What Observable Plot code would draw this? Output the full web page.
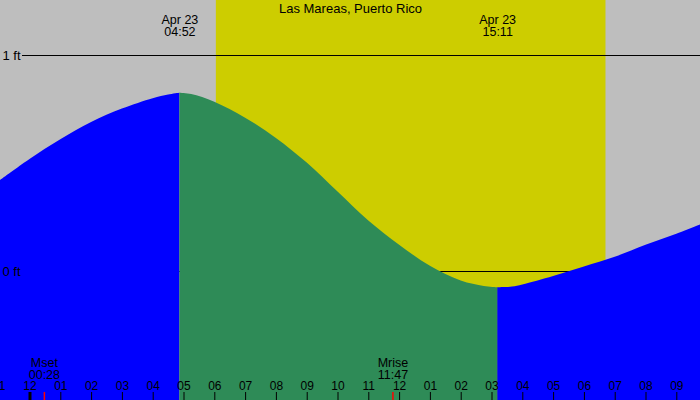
<!DOCTYPE html>
<html>
<head>
<meta charset="utf-8">
<script src="https://cdn.jsdelivr.net/npm/d3@7"></script>
<script src="https://cdn.jsdelivr.net/npm/@observablehq/plot@0.6"></script>
<style>
  html, body { margin: 0; padding: 0; background: #fff; }
  #chart svg { display: block; }
</style>
</head>
<body>
<div id="chart"></div>
<script>
// ---- data ----
const title = "Las Mareas, Puerto Rico";
const windowStart = "2024-04-22T23:02:32Z";
const windowEnd = "2024-04-23T21:46:09Z";

const tideTimes = [
  "2024-04-22T23:00Z", "2024-04-23T00:00Z", "2024-04-23T01:00Z", "2024-04-23T02:00Z",
  "2024-04-23T03:00Z", "2024-04-23T04:00Z", "2024-04-23T04:30Z", "2024-04-23T04:52Z",
  "2024-04-23T05:15Z", "2024-04-23T06:00Z", "2024-04-23T07:00Z", "2024-04-23T08:00Z",
  "2024-04-23T09:00Z", "2024-04-23T10:00Z", "2024-04-23T11:00Z", "2024-04-23T12:00Z",
  "2024-04-23T13:00Z", "2024-04-23T14:00Z", "2024-04-23T14:45Z", "2024-04-23T15:11Z",
  "2024-04-23T15:40Z", "2024-04-23T16:00Z", "2024-04-23T17:00Z", "2024-04-23T18:00Z",
  "2024-04-23T19:00Z", "2024-04-23T20:00Z", "2024-04-23T21:00Z", "2024-04-23T22:00Z"
];
const tideFeet = [
  0.417, 0.519, 0.610, 0.690,
  0.752, 0.800, 0.817, 0.825,
  0.819, 0.784, 0.710, 0.616,
  0.502, 0.368, 0.234, 0.122,
  0.024, -0.044, -0.069, -0.075,
  -0.072, -0.062, -0.023, 0.021,
  0.066, 0.122, 0.173, 0.229
];

const extremeTimes = ["2024-04-23T04:52Z", "2024-04-23T15:11Z"];
const extremeDates = ["Apr 23", "Apr 23"];
const extremeClock = ["04:52", "15:11"];

const sunrise = "2024-04-23T06:03Z";
const sunset = "2024-04-23T18:42Z";

const moonTimes = ["2024-04-23T00:28Z", "2024-04-23T11:47Z"];
const moonNames = ["Mset", "Mrise"];
const moonClock = ["00:28", "11:47"];

const dayBoundary = ["2024-04-23T00:00Z"];

const tickStart = "2024-04-22T23:00Z";
const tickLabels = ["11","12","01","02","03","04","05","06","07","08","09","10","11",
                    "12","01","02","03","04","05","06","07","08","09"];

const levelValues = [0, 1];
const levelLabels = ["0 ft", "1 ft"];

// ---- build ----
const P = s => new Date(s);
const tide = tideTimes.map((t, i) => ({t: P(t), h: tideFeet[i]}));
const hi = P(extremeTimes[0]), lo = P(extremeTimes[1]);
const rising = [
  ...tide.filter(d => d.t <= hi).map(d => ({...d, seg: "r1"})),
  ...tide.filter(d => d.t >= lo).map(d => ({...d, seg: "r2"}))
];
const falling = tide.filter(d => d.t >= hi && d.t <= lo).map(d => ({...d, seg: "f"}));

const tickTimes = tickLabels.map((lab, i) => ({t: d3.utcHour.offset(P(tickStart), i), lab}));
const extremes = extremeTimes.map((t, i) => ({t: P(t), text: extremeDates[i] + "\n" + extremeClock[i]}));
const moons = moonTimes.map((t, i) => ({t: P(t), text: moonNames[i] + "\n" + moonClock[i]}));
const levels = levelValues.map((v, i) => ({v, text: levelLabels[i]}));

const font = "'Liberation Sans', Arial, sans-serif";

const chart = Plot.plot({
  width: 700,
  height: 400,
  margin: 0,
  style: {background: "#BEBEBE", fontFamily: font, fontSize: "12.5px", color: "#000", overflow: "hidden"},
  x: {type: "utc", domain: [P(windowStart), P(windowEnd)], axis: null},
  y: {domain: [0, 1], range: [271, 55], axis: null},
  marks: [
    Plot.rect([{a: P(sunrise), b: P(sunset)}], {x1: "a", x2: "b", fill: "#CDCD00"}),
    Plot.ruleY([levelValues[0]], {stroke: "#000", strokeWidth: 1}),
    Plot.areaY(rising, {x: "t", y1: () => -1, y2: "h", z: "seg", fill: "#0000FF", curve: "catmull-rom", clip: true}),
    Plot.areaY(falling, {x: "t", y1: () => -1, y2: "h", z: "seg", fill: "#2E8B57", curve: "catmull-rom", clip: true}),
    Plot.ruleY([levelValues[1]], {stroke: "#000", strokeWidth: 1, insetLeft: 22}),
    Plot.text(levels, {y: "v", text: "text", frameAnchor: "left", textAnchor: "start", dx: 2, fontSize: 13, fill: "#000"}),
    Plot.text([title], {frameAnchor: "top", lineAnchor: "top", dy: 3, fontSize: 13, fill: "#000"}),
    Plot.text(extremes, {x: "t", text: "text", frameAnchor: "top", lineAnchor: "top", dy: 15, lineHeight: 0.96, fill: "#000"}),
    Plot.text(moons, {x: "t", text: "text", frameAnchor: "bottom", lineAnchor: "bottom", dy: -22, lineHeight: 0.96, fill: "#000"}),
    Plot.text(tickTimes, {x: "t", text: "lab", frameAnchor: "bottom", lineAnchor: "bottom", dy: -11, fontSize: 12, fill: "#000"}),
    Plot.ruleX(tickTimes, {x: "t", insetTop: 392, stroke: "#000", strokeWidth: 1}),
    Plot.ruleX(dayBoundary.map(P), {insetTop: 392, stroke: "#000", strokeWidth: 3}),
    Plot.ruleX(moons, {x: "t", insetTop: 392, stroke: "#FF0000", strokeWidth: 1.5})
  ]
});
document.getElementById("chart").appendChild(chart);
</script>
</body>
</html>
